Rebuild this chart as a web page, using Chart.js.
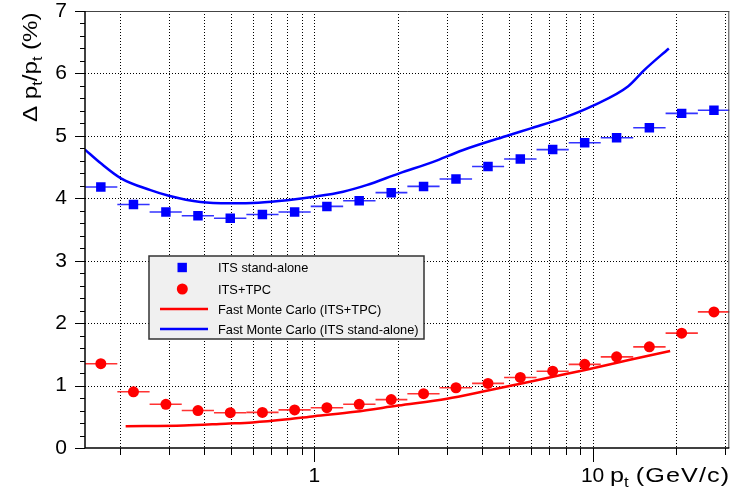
<!DOCTYPE html>
<html lang="en">
<head>
<meta charset="UTF-8">
<script src="https://cdn.jsdelivr.net/npm/chart.js"></script>
<style>
  body { margin: 0; background: #fff; }
  #wrap { width: 736px; height: 493px; }
</style>
</head>
<body>
<div id="wrap"><canvas id="resChart" width="736" height="493"></canvas></div>
<script>
// pt bins (GeV/c), log spaced
const binEdges = [0.150, 0.196, 0.256, 0.334, 0.436, 0.570, 0.744, 0.971, 1.27, 1.66, 2.16,
                  2.82, 3.69, 4.81, 6.29, 8.21, 10.7, 14.0, 18.3, 23.9, 31.2];
const binCenter = [0.171, 0.224, 0.293, 0.382, 0.499, 0.651, 0.850, 1.11, 1.45, 1.89,
                   2.47, 3.23, 4.21, 5.50, 7.19, 9.37, 12.2, 16.0, 20.9, 27.3];

// measured resolution (%)
const itsStandAlone = [4.18, 3.90, 3.78, 3.72, 3.68, 3.74, 3.78, 3.87, 3.96, 4.09,
                       4.19, 4.31, 4.51, 4.63, 4.78, 4.89, 4.97, 5.13, 5.36, 5.41];
const itsTpc = [1.35, 0.90, 0.70, 0.60, 0.565, 0.57, 0.61, 0.645, 0.70, 0.775,
                0.87, 0.965, 1.035, 1.13, 1.23, 1.34, 1.46, 1.62, 1.84, 2.18];

// fast monte carlo curves
const fmcTpcPt  = [0.21, 0.34, 0.48, 0.60, 0.80, 1.0, 1.4, 2.0, 3.0, 4.0, 5.5, 7.0, 9.4, 13.5, 19.0];
const fmcTpcRes = [0.35, 0.36, 0.39, 0.41, 0.46, 0.51, 0.58, 0.68, 0.79, 0.90, 1.03, 1.13, 1.25, 1.41, 1.555];
const fmcItsPt  = [0.15, 0.171, 0.202, 0.258, 0.30, 0.39, 0.50, 0.63, 0.80, 1.0, 1.27, 1.54,
                   2.02, 2.66, 3.41, 5.0, 6.0, 8.0, 10.0, 13.4, 15.4, 18.8];
const fmcItsRes = [4.78, 4.56, 4.32, 4.13, 4.04, 3.94, 3.92, 3.93, 3.97, 4.025, 4.105, 4.21,
                   4.40, 4.58, 4.77, 5.01, 5.12, 5.30, 5.48, 5.79, 6.06, 6.40];

// axis ticks
const xTickVals = [0.2, 0.3, 0.4, 0.5, 0.6, 0.7, 0.8, 0.9, 1, 2, 3, 4, 5, 6, 7, 8, 9, 10, 20, 30];
const xTickText = ['', '', '', '', '', '', '', '', '1', '', '', '', '', '', '', '', '', '10', '', ''];

const legendItems = [
  { text: 'ITS stand-alone', kind: 'rect', color: '#0000ff' },
  { text: 'ITS+TPC', kind: 'circle', color: '#ff0000' },
  { text: 'Fast Monte Carlo (ITS+TPC)', kind: 'line', color: '#ff0000' },
  { text: 'Fast Monte Carlo (ITS stand-alone)', kind: 'line', color: '#0000ff' }
];

const FONT = '"Liberation Sans", Arial, Helvetica, sans-serif';

function pts(xs, ys) { return xs.map((v, i) => ({ x: v, y: ys[i] })); }

function line(ctx, x1, y1, x2, y2) {
  ctx.beginPath(); ctx.moveTo(x1, y1); ctx.lineTo(x2, y2); ctx.stroke();
}

// text with subscripts, drawn along current x direction, glyphs widened by sx
function drawParts(ctx, parts, x, y, sx) {
  parts.forEach(p => {
    const size = p.sub ? 14 : 21;
    ctx.font = size + 'px ' + FONT;
    const dy = p.sub ? 5 : 0;
    for (const ch of p.t) {
      ctx.save();
      ctx.translate(x, y + dy);
      ctx.scale(sx, 1);
      ctx.fillText(ch, 0, 0);
      ctx.restore();
      x += ctx.measureText(ch).width * sx + (p.sp || 0);
    }
  });
}

const gridPlugin = {
  id: 'gridPlugin',
  beforeDatasetsDraw(chart) {
    const { ctx, chartArea: a, scales: { x, y } } = chart;
    ctx.save();
    ctx.strokeStyle = '#000';
    ctx.lineWidth = 1;
    ctx.setLineDash([1, 2]);
    x.ticks.forEach(t => {
      const px = Math.round(x.getPixelForValue(t.value)) + 0.5;
      line(ctx, px, a.top, px, a.bottom);
    });
    y.ticks.forEach(t => {
      if (t.value <= 0 || t.value >= 7) return;
      const py = Math.round(y.getPixelForValue(t.value)) + 0.5;
      line(ctx, a.left, py, a.right, py);
    });
    ctx.restore();

    // horizontal bin-width bars
    ctx.save();
    ctx.beginPath();
    ctx.rect(a.left, a.top, a.right - a.left, a.bottom - a.top);
    ctx.clip();
    ctx.lineWidth = 1.6;
    [[itsStandAlone, '#3333ff'], [itsTpc, '#ff3333']].forEach(([vals, col]) => {
      ctx.strokeStyle = col;
      vals.forEach((v, i) => {
        const py = y.getPixelForValue(v);
        line(ctx, x.getPixelForValue(binEdges[i]), py, x.getPixelForValue(binEdges[i + 1]), py);
      });
    });
    ctx.restore();
  },
  afterDraw(chart) {
    const { ctx, chartArea: a, scales: { x, y } } = chart;
    ctx.save();
    // frame
    ctx.strokeStyle = '#444';
    ctx.lineWidth = 1;
    line(ctx, a.left, a.top + 0.5, a.right, a.top + 0.5);
    line(ctx, a.right - 0.5, a.top, a.right - 0.5, a.bottom);
    ctx.strokeStyle = '#000';
    ctx.lineWidth = 1.5;
    line(ctx, a.left, a.bottom, a.right, a.bottom);
    line(ctx, a.left, a.top, a.left, a.bottom);
    // tick marks
    ctx.lineWidth = 1;
    x.ticks.forEach((t, i) => {
      const px = Math.round(x.getPixelForValue(t.value)) + 0.5;
      line(ctx, px, a.bottom, px, a.bottom + (xTickText[i] ? 14 : 7));
    });
    for (let k = 0; k <= 35; k++) {
      const py = Math.round(y.getPixelForValue(k / 5)) + 0.5;
      line(ctx, a.left - (k % 5 === 0 ? 10 : 5), py, a.left, py);
    }

    // axis titles
    ctx.fillStyle = '#000';
    ctx.textBaseline = 'alphabetic';
    ctx.textAlign = 'left';
    drawParts(ctx, [{ t: 'p' }, { t: 't', sub: true }, { t: ' ' }, { t: '(GeV/c)', sp: 1.1 }], 610, 482, 1.2);
    ctx.save();
    ctx.translate(37, 122);
    ctx.rotate(-Math.PI / 2);
    drawParts(ctx, [{ t: 'Δ p' }, { t: 't', sub: true }, { t: '/p' },
                    { t: 't', sub: true }, { t: ' (%)' }], 0, 0, 1.15);
    ctx.restore();

    // legend box
    ctx.fillStyle = '#f0f0f0';
    ctx.fillRect(149, 256, 275, 83);
    ctx.strokeStyle = '#333';
    ctx.lineWidth = 1.5;
    ctx.strokeRect(149, 256, 275, 83);
    const rowY = [267.5, 289, 309, 329];
    ctx.font = '12.8px ' + FONT;
    ctx.textBaseline = 'middle';
    legendItems.forEach((it, i) => {
      const cy = rowY[i];
      ctx.fillStyle = it.color;
      ctx.strokeStyle = it.color;
      if (it.kind === 'rect') {
        ctx.fillRect(177.5, cy - 4.7, 9.4, 9.4);
      } else if (it.kind === 'circle') {
        ctx.beginPath(); ctx.arc(182.3, cy, 5.5, 0, Math.PI * 2); ctx.fill();
      } else {
        ctx.lineWidth = 2.5;
        line(ctx, 160, cy, 208, cy);
      }
      ctx.fillStyle = '#000';
      ctx.fillText(it.text, 218, cy + 1);
    });
    ctx.restore();
  }
};

new Chart(document.getElementById('resChart'), {
  type: 'scatter',
  data: {
    datasets: [
      {
        label: 'ITS stand-alone',
        data: pts(binCenter, itsStandAlone),
        pointStyle: 'rect',
        pointRadius: 6.7,
        backgroundColor: '#0000ff',
        borderWidth: 0,
        showLine: false
      },
      {
        label: 'ITS+TPC',
        data: pts(binCenter, itsTpc),
        pointStyle: 'circle',
        pointRadius: 5.5,
        backgroundColor: '#ff0000',
        borderWidth: 0,
        showLine: false
      },
      {
        label: 'Fast Monte Carlo (ITS+TPC)',
        data: pts(fmcTpcPt, fmcTpcRes),
        showLine: true,
        pointRadius: 0,
        borderColor: '#ff0000',
        borderWidth: 2.5,
        cubicInterpolationMode: 'monotone'
      },
      {
        label: 'Fast Monte Carlo (ITS stand-alone)',
        data: pts(fmcItsPt, fmcItsRes),
        showLine: true,
        pointRadius: 0,
        borderColor: '#0000ff',
        borderWidth: 2.5,
        cubicInterpolationMode: 'monotone'
      }
    ]
  },
  options: {
    responsive: false,
    animation: false,
    layout: { padding: { top: 11, right: 5, left: 0, bottom: 0 } },
    plugins: { legend: { display: false }, tooltip: { enabled: false } },
    scales: {
      x: {
        type: 'logarithmic',
        min: 0.15,
        max: 31,
        grid: { display: false },
        border: { display: false },
        afterBuildTicks: s => { s.ticks = xTickVals.map(v => ({ value: v })); },
        afterFit: s => { s.height = 45; s.paddingLeft = 0; s.paddingRight = 0; },
        ticks: {
          autoSkip: false,
          maxRotation: 0,
          padding: 8,
          color: '#000',
          font: { family: FONT, size: 21 },
          callback: (v, i) => xTickText[i]
        }
      },
      y: {
        min: 0,
        max: 7,
        grid: { display: false },
        border: { display: false },
        afterFit: s => { s.width = 85; s.paddingTop = 0; s.paddingBottom = 0; },
        ticks: {
          stepSize: 1,
          padding: 10,
          color: '#000',
          font: { family: FONT, size: 21 }
        }
      }
    }
  },
  plugins: [gridPlugin]
});
</script>
</body>
</html>
